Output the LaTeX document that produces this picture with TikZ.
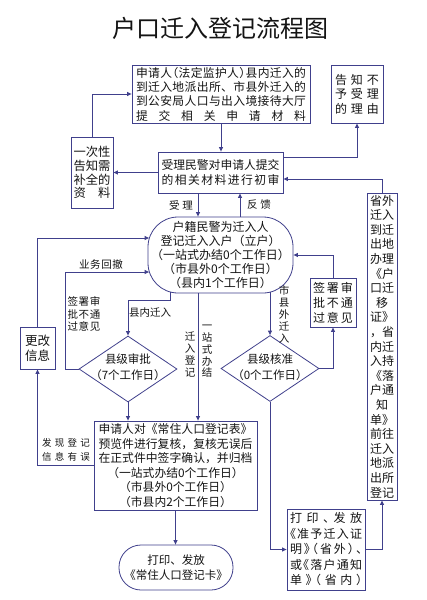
\documentclass[tikz,border=0pt]{standalone}
\usepackage{fontspec}
\setmainfont{Noto Sans CJK SC}
\newfontfamily\cjkh{Noto Sans CJK SC}[RawFeature=+halt]
\usetikzlibrary{arrows.meta,shapes.geometric}
\definecolor{linec}{RGB}{64,64,140}
\definecolor{txt}{RGB}{20,20,20}
\makeatletter
\newcommand\sprd[2]{\makebox[#1][s]{\sprd@first#2\relax}}
\def\sprd@first#1{#1\sprd@rest}
\def\sprd@rest#1{\ifx#1\relax\else\hfil#1\expandafter\sprd@rest\fi}
\makeatother
\tikzset{
  box/.style={draw=linec, line width=0.8pt, inner sep=0pt, text=txt, align=center},
  dia/.style={draw=linec, line width=0.8pt, diamond, inner sep=0pt, minimum width=98pt, minimum height=66pt},
  lbl/.style={inner sep=0pt, text=txt, align=center},
  conn/.style={draw=linec, line width=0.9pt, -{Triangle[length=4.5pt,width=4pt]}},
}
\begin{document}
\begin{tikzpicture}[x=1pt,y=-1pt]
\fill[white] (0,0) rectangle (426,600);
\useasboundingbox (0,0) rectangle (426,600);

\node[lbl, font=\fontsize{24}{28}\selectfont] (title) at (220,28) {户口迁入登记流程图};

\node[box, minimum width=178pt, minimum height=58pt, font=\fontsize{11.8}{14.3}\selectfont] (apply) at (221,94)
 {{\cjkh\sprd{170pt}{申请人（法定监护人）县内迁入的}}\\\sprd{170pt}{到迁入地派出所、市县外迁入的}\\\sprd{170pt}{到公安局人口与出入境接待大厅}\\\sprd{170pt}{提交相关申请材料}};

\node[box, minimum width=52pt, minimum height=58pt, font=\fontsize{12}{14.5}\selectfont] (reject) at (357,94)
 {\sprd{44pt}{告知不}\\\sprd{44pt}{予受理}\\\sprd{44pt}{的理由}};

\node[box, minimum width=42pt, minimum height=71pt, font=\fontsize{12.3}{13.8}\selectfont] (once) at (92,172.5)
 {\sprd{37pt}{一次性}\\\sprd{37pt}{告知需}\\\sprd{37pt}{补全的}\\\sprd{37pt}{资料}};

\node[box, minimum width=125pt, minimum height=41pt, font=\fontsize{11.8}{15}\selectfont] (check) at (220.5,172.5)
 {\sprd{118pt}{受理民警对申请人提交}\\\sprd{118pt}{的相关材料进行初审}};

\node[box, minimum width=30pt, minimum height=307pt, font=\fontsize{12}{14.6}\selectfont] (prov) at (382,346.5)
 {省外\\迁入\\到迁\\出地\\办理\\《户\\口迁\\移\\证》\\，省\\内迁\\入持\\《落\\户通\\知\\单》\\前往\\迁入\\地派\\出所\\登记};

\node[box, rounded corners=30pt, minimum width=145pt, minimum height=76pt, font=\fontsize{12}{14}\selectfont] (reg) at (220.5,255)
 {户籍民警为迁入人\\登记迁入入户（立户）\\（一站式办结0个工作日）\\（市县外0个工作日）\\（县内1个工作日）};

\node[box, minimum width=35pt, minimum height=42pt, font=\fontsize{12.5}{15}\selectfont] (modify) at (37.5,348) {更改\\信息};

\node[dia] (d1) at (128,369) {};
\node[lbl, font=\fontsize{11.5}{16}\selectfont] (d1t) at (128,367) {县级审批\\（7个工作日）};
\node[dia] (d2) at (270,368.5) {};
\node[lbl, font=\fontsize{11.5}{16}\selectfont] (d2t) at (270,367) {县级核准\\（0个工作日）};

\node[box, minimum width=46pt, minimum height=49pt, font=\fontsize{12}{15}\selectfont] (sign2) at (333,302.5)
 {\sprd{40pt}{签署审}\\\sprd{40pt}{批不通}\\\sprd{40pt}{过意见}};

\node[box, minimum width=163pt, minimum height=89pt, font=\fontsize{11.8}{14.6}\selectfont] (review) at (175.5,465.5)
 {\sprd{154pt}{申请人对《常住人口登记表》}\\\sprd{154pt}{预览件进行复核，复核无误后}\\\sprd{154pt}{在正式件中签字确认，并归档}\\（一站式办结0个工作日）\\（市县外0个工作日）\\（市县内2个工作日）};

\node[box, rounded corners=22pt, minimum width=114pt, minimum height=45pt, font=\fontsize{11.5}{15.5}\selectfont] (card) at (176,567.5)
 {打印、发放\\《常住人口登记卡》};

\node[box, minimum width=78pt, minimum height=81pt, font=\cjkh\fontsize{12}{15.5}\selectfont] (permit) at (326,549.5)
 {\sprd{72pt}{打印、发放}\\\sprd{72pt}{《准予迁入证}\\\sprd{72pt}{明》（省外）、}\\\sprd{72pt}{或《落户通知}\\\sprd{72pt}{单》（省内）}};

% labels
\node[lbl, font=\fontsize{10.5}{12.3}\selectfont] (sign1) at (84,314) {\sprd{33pt}{签署审}\\\sprd{33pt}{批不通}\\\sprd{33pt}{过意见}};
\node[lbl, font=\fontsize{9.5}{14}\selectfont] (found) at (66,450) {\sprd{48pt}{发现登记}\\\sprd{48pt}{信息有误}};
\node[lbl, font=\fontsize{10.5}{12}\selectfont] (lacc) at (181,205) {\sprd{24pt}{受理}};
\node[lbl, font=\fontsize{10.5}{12}\selectfont] (lfb) at (259,205) {\sprd{24pt}{反馈}};
\node[lbl, font=\fontsize{10.5}{12}\selectfont] (lrb) at (101,264) {\sprd{44pt}{业务回撤}};
\node[lbl, font=\fontsize{10.5}{12}\selectfont] (lin) at (150,313) {县内迁入};
\node[lbl, font=\fontsize{10.5}{12}\selectfont] (lreg) at (190,354) {迁\\入\\登\\记};
\node[lbl, font=\fontsize{10.5}{11.7}\selectfont] (lone) at (207,351.5) {一\\站\\式\\办\\结};
\node[lbl, font=\fontsize{10.5}{12}\selectfont] (lout) at (284,314) {市\\县\\外\\迁\\入};

\coordinate (k1) at (170,300);

% connectors
\draw[conn] (apply.south) -- (apply.south |- check.north);
\draw[conn] ([yshift=15.5pt]check.east) -| (reject.south);
\draw[conn] (check.west) -- (check.west -| once.east);
\draw[conn] (once.north) |- (apply.west);
\draw[conn] (prov.north) |- ([yshift=-6.5pt]check.east);
\draw[conn] ([xshift=-22.5pt]check.south) -- ([xshift=-22.5pt]reg.north);
\draw[conn] ([xshift=19.5pt]reg.north) -- ([xshift=19.5pt]reg.north |- check.south);
\draw[conn] (modify.north) |- ([xshift=1.5pt,yshift=17pt]reg.west);
\draw[conn] (d1.west) -- ++(-13,0) |- ([xshift=1.5pt,yshift=-17pt]reg.west);
\draw[conn] ([xshift=-50.5pt,yshift=1pt]reg.south) -- (k1) -| (d1.north);
\draw[conn] ([xshift=-22.5pt]reg.south) -- ([xshift=-22.5pt]reg.south |- review.north);
\draw[conn] (d1.south) -- (d1.south |- review.north);
\draw[conn] ([xshift=49.5pt,yshift=1pt]reg.south) -- (d2.north);
\draw[conn] (d2.east) -| (sign2.south);
\draw[conn] (sign2.north) |- (reg.east);
\draw[conn] (d2.south) |- (permit.west);
\draw[conn] (permit.east) -| (prov.south);
\draw[conn] (review.west) -| (modify.south);
\draw[conn] (review.south) -- (review.south |- card.north);
\end{tikzpicture}
\end{document}
